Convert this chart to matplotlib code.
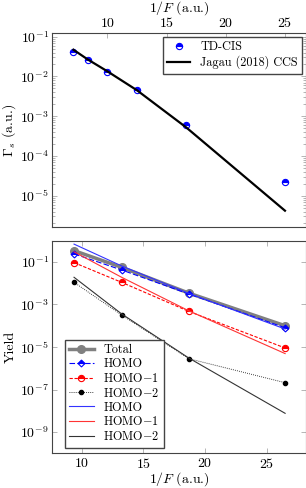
import matplotlib
matplotlib.use("Agg")
import matplotlib.pyplot as plt
import numpy as np

plt.rcParams.update({
    'font.family': 'serif',
    'font.serif': ['cmr10'],
    'mathtext.fontset': 'cm',
    'axes.formatter.use_mathtext': True,
    'axes.unicode_minus': False,
    'font.size': 10,
})

# top panel: rates
inv_F_rate = [7.14, 8.33, 10.0, 12.5, 16.67, 25.0]
tdcis_rate = [0.042, 0.026, 0.013, 0.0046, 5.9e-4, 2.2e-5]
ccs_rate = [0.047, 0.027, 0.0135, 0.0045, 5.2e-4, 4.2e-6]

# bottom panel: yields
inv_F_yield = [9.38, 13.24, 18.7, 26.5]
total = [0.34, 0.056, 0.0034, 1.0e-4]
homo = [0.24, 0.042, 0.0031, 8.0e-5]
homo1 = [0.093, 0.011, 4.7e-4, 9.0e-6]
homo2 = [0.011, 3.2e-4, 2.8e-6, 2.1e-7]
homo_model = [0.69, 0.065, 0.0033, 7.0e-5]
homo1_model = [0.30, 0.019, 5.0e-4, 4.9e-6]
homo2_model = [0.019, 3.6e-4, 3.0e-6, 7.6e-9]

spine_c = '#444444'
tick_c = '#999999'
xlab = r'$1/F\ $(a.u.)'

fig = plt.figure(figsize=(3.06, 4.88), dpi=100)
ax1 = fig.add_axes([0.171, 0.5342, 0.828, 0.3982])
ax2 = fig.add_axes([0.171, 0.0711, 0.828, 0.4357])

# top
ax1.plot(inv_F_rate, tdcis_rate, ls='none', marker='o', ms=4.5, color='blue',
         fillstyle='top', markerfacecoloralt='white', mew=0.8, label='TD-CIS')
ax1.plot(inv_F_rate, ccs_rate, color='black', lw=1.6, label='Jagau (2018) CCS')
ax1.set_yscale('log')
ax1.set_xlim(5.36, 26.75)
ax1.set_ylim(10**-5.795, 10**-0.907)
ax1.set_xticks([10, 15, 20, 25])
ax1.xaxis.tick_top()
ax1.xaxis.set_label_position('top')
ax1.set_xlabel(xlab)
ax1.xaxis.set_label_coords(0.5, 1.11)
ax1.set_ylabel(r'$\Gamma_s$ (a.u.)')
ax1.yaxis.set_label_coords(-0.135, 0.5)
ax1.set_yticks([1e-1, 1e-2, 1e-3, 1e-4, 1e-5])
ax1.legend(loc='upper right', fancybox=False, edgecolor='#444444', framealpha=1,
           bbox_to_anchor=(0.985, 0.98), borderaxespad=0, handlelength=1.9,
           fontsize=8.8, labelspacing=0.2, borderpad=0.35)

# bottom
ax2.plot(inv_F_yield, total, color='#808080', lw=2.5, marker='o', ms=5.5, label='Total')
ax2.plot(inv_F_yield, homo, color='blue', lw=0.8, ls=(0, (5, 2)), marker='D', ms=3.5,
         fillstyle='top', markerfacecoloralt='white', mew=0.8, label='HOMO')
ax2.plot(inv_F_yield, homo1, color='red', lw=0.8, ls=(0, (3, 1.5)), marker='o', ms=4.5,
         fillstyle='top', markerfacecoloralt='white', mew=0.8, label=r'HOMO$-$1')
ax2.plot(inv_F_yield, homo2, color='black', lw=0.6, ls=(0, (1, 1.5)), marker='o', ms=3,
         label=r'HOMO$-$2')
ax2.plot(inv_F_yield, homo_model, color='#3333ff', lw=0.8, label='HOMO')
ax2.plot(inv_F_yield, homo1_model, color='#ff3333', lw=0.8, label=r'HOMO$-$1')
ax2.plot(inv_F_yield, homo2_model, color='#333333', lw=0.8, label=r'HOMO$-$2')
ax2.set_yscale('log')
ax2.set_xlim(7.62, 28.17)
ax2.set_ylim(1e-10, 1)
ax2.set_xticks([10, 15, 20, 25])
ax2.set_yticks([1e-1, 1e-3, 1e-5, 1e-7, 1e-9])
ax2.yaxis.set_minor_locator(matplotlib.ticker.NullLocator())
ax2.set_xlabel(xlab)
ax2.xaxis.set_label_coords(0.5, -0.08)
ax2.set_ylabel('Yield')
ax2.yaxis.set_label_coords(-0.14, 0.5)
ax2.legend(loc='lower left', fancybox=False, edgecolor='#444444', framealpha=1,
           bbox_to_anchor=(0.05, 0.027), borderaxespad=0, handlelength=2.0,
           fontsize=8.8, labelspacing=0.15, borderpad=0.35)

for ax in (ax1, ax2):
    for s in ax.spines.values():
        s.set_color(spine_c)
        s.set_linewidth(0.8)
    ax.tick_params(which='both', direction='in', top=True, right=True,
                   color=tick_c, width=0.5, pad=2.5)
    ax.tick_params(which='major', length=3.5)
    ax.tick_params(which='minor', length=2)

fig.savefig('out.png', dpi=100)
